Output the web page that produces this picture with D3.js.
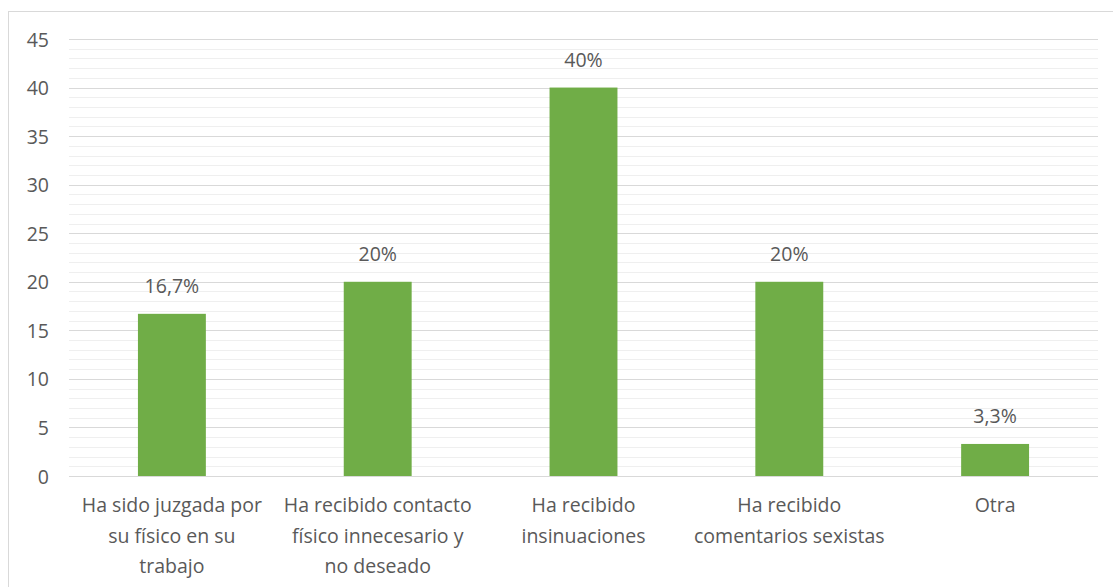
<!DOCTYPE html>
<html><head><meta charset="utf-8">
<script src="https://cdn.jsdelivr.net/npm/d3@7"></script>
<style>
body{margin:0;background:#fff;}
svg text{font-family:"Open Sans","Noto Sans",sans-serif;fill:#595959;}
</style></head>
<body>
<script>
const categories = [
  ["Ha sido juzgada por","su físico en su","trabajo"],
  ["Ha recibido contacto","físico innecesario y","no deseado"],
  ["Ha recibido","insinuaciones"],
  ["Ha recibido","comentarios sexistas"],
  ["Otra"]
];
const values = [16.7, 20, 40, 20, 3.3];
const valueLabels = ["16,7%","20%","40%","20%","3,3%"];
const yTicks = [0,5,10,15,20,25,30,35,40,45];

const W = 1113, H = 587;
const plot = {left:69, right:1098, top:39, bottom:476};
const svg = d3.select("body").append("svg").attr("width",W).attr("height",H);

svg.append("rect").attr("x",8.5).attr("y",11.5).attr("width",W+20).attr("height",H+20)
  .attr("fill","none").attr("stroke","#d9d9d9").attr("stroke-width",1);

const x = d3.scaleBand().domain(d3.range(values.length)).range([plot.left,plot.right]).paddingInner(0.67).paddingOuter(0.335);
const y = d3.scaleLinear().domain([0,45]).range([plot.bottom,plot.top]);

// minor gridlines
svg.append("g").selectAll("line").data(d3.range(1,46).filter(v=>v%5!==0)).join("line")
  .attr("x1",plot.left).attr("x2",plot.right)
  .attr("y1",d=>Math.round(y(d))+0.5).attr("y2",d=>Math.round(y(d))+0.5)
  .attr("stroke","#efefef").attr("stroke-width",1);
// major gridlines
svg.append("g").selectAll("line").data(yTicks).join("line")
  .attr("x1",plot.left).attr("x2",plot.right)
  .attr("y1",d=>Math.round(y(d))+0.5).attr("y2",d=>Math.round(y(d))+0.5)
  .attr("stroke","#d9d9d9").attr("stroke-width",1);

// y axis labels
const yAxis = d3.axisLeft(y).tickValues(yTicks).tickSize(0).tickPadding(0);
const gy = svg.append("g").attr("transform",`translate(49,0)`).call(yAxis);
gy.select(".domain").remove();
gy.selectAll("text").style("font-size","19.5px").attr("fill","#595959").attr("dy","0.36em");

// bars
svg.append("g").selectAll("rect").data(values).join("rect")
  .attr("x",(d,i)=>x(i)).attr("width",x.bandwidth())
  .attr("y",d=>y(d)).attr("height",d=>y(0)-y(d))
  .attr("fill","#70AD47");

// value labels
svg.append("g").selectAll("text").data(values).join("text")
  .attr("x",(d,i)=>x(i)+x.bandwidth()/2).attr("y",d=>y(d)-21)
  .attr("text-anchor","middle").style("font-size","19.5px")
  .text((d,i)=>valueLabels[i]);

// category labels
const cg = svg.append("g").selectAll("text").data(categories).join("text")
  .attr("text-anchor","middle").style("font-size","19.5px");
cg.each(function(lines,i){
  const t = d3.select(this);
  lines.forEach((l,j)=>{
    t.append("tspan").attr("x",x(i)+x.bandwidth()/2).attr("y",512+j*30.5).text(l);
  });
});
</script>
</body></html>
